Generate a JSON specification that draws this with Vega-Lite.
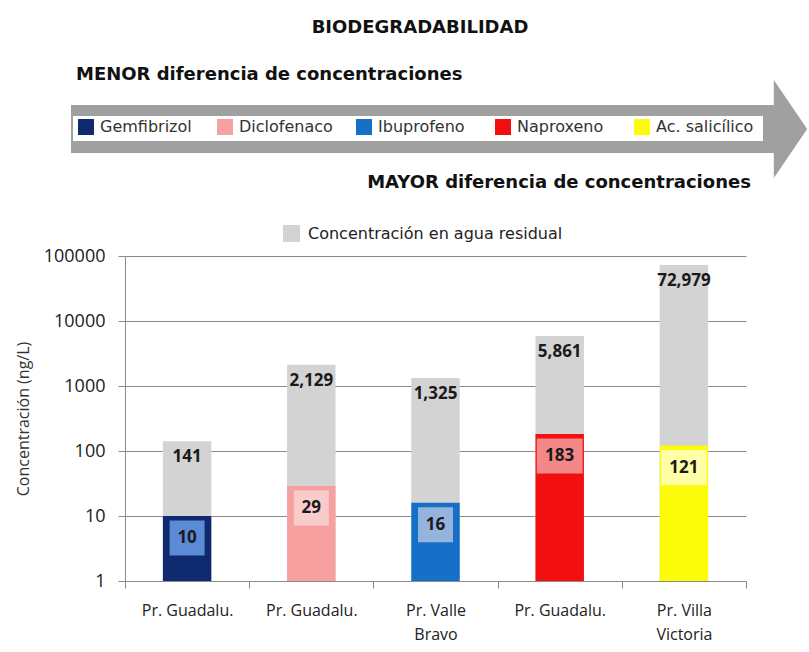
{
  "$schema": "https://vega.github.io/schema/vega-lite/v6.json",
  "padding": {"left": 15, "top": 5, "right": 0, "bottom": 4},
  "background": "white",
  "config": {"view": {"stroke": null}, "concat": {"spacing": 42}},
  "datasets": {
    "farmacos": [
      {"farmaco": "Gemfibrizol", "sitio": "Pr. Guadalu.", "residual": 141, "tratada": 10},
      {"farmaco": "Diclofenaco", "sitio": "Pr. Guadalu.", "residual": 2129, "tratada": 29},
      {"farmaco": "Ibuprofeno", "sitio": "Pr. Valle Bravo", "residual": 1325, "tratada": 16},
      {"farmaco": "Naproxeno", "sitio": "Pr. Guadalu.", "residual": 5861, "tratada": 183},
      {"farmaco": "Ac. salicílico", "sitio": "Pr. Villa Victoria", "residual": 72979, "tratada": 121}
    ]
  },
  "resolve": {"scale": {"x": "independent", "y": "independent"}},
  "vconcat": [
    {
      "width": 621,
      "height": 200,
      "data": {"values": [{}]},
      "layer": [
        {
          "mark": {"type": "rect", "color": "#a0a0a0"},
          "encoding": {
            "x": {"datum": 0, "type": "quantitative", "scale": {"domain": [0, 100], "range": [-54, 685]}, "axis": null},
            "x2": {"datum": 95.2},
            "y": {"datum": 50, "type": "quantitative", "scale": {"domain": [0, 100], "range": [0, 200]}, "axis": null},
            "y2": {"datum": 74}
          }
        },
        {
          "mark": {"type": "point", "shape": "M-0.34,-1L0.34,0L-0.34,1Z", "filled": true, "color": "#a0a0a0", "opacity": 1, "size": 9604, "strokeWidth": 0},
          "encoding": {
            "x": {"datum": 97.36, "type": "quantitative"},
            "y": {"datum": 62, "type": "quantitative"}
          }
        },
        {
          "mark": {"type": "rect", "color": "white"},
          "encoding": {
            "x": {"datum": 0.27, "type": "quantitative"},
            "x2": {"datum": 93.64},
            "y": {"datum": 55.5, "type": "quantitative"},
            "y2": {"datum": 68}
          }
        },
        {
          "mark": {"type": "text", "text": "BIODEGRADABILIDAD", "font": "DejaVu Sans", "fontWeight": "bold", "fontSize": 18, "color": "#111", "align": "center", "baseline": "middle"},
          "encoding": {
            "x": {"datum": 47.23, "type": "quantitative"},
            "y": {"datum": 11.5, "type": "quantitative"}
          }
        },
        {
          "mark": {"type": "text", "text": "MENOR diferencia de concentraciones", "font": "DejaVu Sans", "fontWeight": "bold", "fontSize": 18, "color": "#111", "align": "left", "baseline": "middle"},
          "encoding": {
            "x": {"datum": 0.68, "type": "quantitative"},
            "y": {"datum": 35, "type": "quantitative"}
          }
        },
        {
          "mark": {"type": "text", "text": "MAYOR diferencia de concentraciones", "font": "DejaVu Sans", "fontWeight": "bold", "fontSize": 18, "color": "#111", "align": "right", "baseline": "middle"},
          "encoding": {
            "x": {"datum": 92.0, "type": "quantitative"},
            "y": {"datum": 89, "type": "quantitative"}
          }
        }
      ]
    },
    {
      "width": 621,
      "height": 325,
      "data": {"name": "farmacos"},
      "encoding": {
        "x": {
          "field": "farmaco",
          "type": "nominal",
          "sort": null,
          "scale": {"paddingInner": 0, "paddingOuter": 0},
          "axis": {
            "title": null,
            "labelAngle": 0,
            "tickBand": "extent",
            "tickSize": 7,
            "tickColor": "#8a8a8a",
            "domainColor": "#8a8a8a",
            "labelFont": "Open Sans",
            "labelFontSize": 16,
            "labelColor": "#222",
            "labelPadding": 14,
            "labelLineHeight": 24,
            "labelExpr": "(datum.value == 'Gemfibrizol' || datum.value == 'Diclofenaco' || datum.value == 'Naproxeno') ? 'Pr. Guadalu.' : datum.value == 'Ibuprofeno' ? ['Pr. Valle', 'Bravo'] : datum.value == 'Ac. salicílico' ? ['Pr. Villa', 'Victoria'] : ''"
          }
        }
      },
      "layer": [
        {
          "mark": {"type": "bar", "width": {"band": 0.39}},
          "encoding": {
            "y": {
              "field": "residual",
              "type": "quantitative",
              "title": "Concentración (ng/L)",
              "scale": {"type": "log", "domain": [1, 100000], "nice": false},
              "axis": {
                "values": [1, 10, 100, 1000, 10000, 100000],
                "format": "d",
                "grid": true,
                "gridColor": "#8a8a8a",
                "domainColor": "#8a8a8a",
                "tickColor": "#8a8a8a",
                "tickSize": 7,
                "labelFont": "Open Sans",
                "labelFontSize": 18,
                "labelColor": "#1a1a1a",
                "labelPadding": 13,
                "titleFont": "Open Sans",
                "titleFontSize": 16,
                "titleFontWeight": "normal",
                "titleColor": "#333",
                "titlePadding": 12
              }
            },
            "y2": {"datum": 1},
            "fill": {
              "datum": "Concentración en agua residual",
              "scale": {"range": ["#d3d3d3"]},
              "legend": {
                "title": null,
                "orient": "none",
                "legendX": 158,
                "legendY": 220,
                "symbolType": "square",
                "symbolSize": 289,
                "symbolStrokeWidth": 0,
                "labelFont": "DejaVu Sans",
                "labelFontSize": 16,
                "labelColor": "#222",
                "labelOffset": 8,
                "labelLimit": 0,
                "padding": 0
              }
            }
          }
        },
        {
          "mark": {"type": "bar", "width": {"band": 0.39}},
          "encoding": {
            "y": {"field": "tratada", "type": "quantitative", "title": "Concentración (ng/L)"},
            "y2": {"datum": 1},
            "color": {
              "field": "farmaco",
              "type": "nominal",
              "sort": null,
              "scale": {
                "domain": ["Gemfibrizol", "Diclofenaco", "Ibuprofeno", "Naproxeno", "Ac. salicílico"],
                "range": ["#0f2a6e", "#f6a0a0", "#1770c8", "#f20f0f", "#fcfc0a"]
              },
              "legend": {
                "title": null,
                "orient": "none",
                "direction": "horizontal",
                "legendX": -47,
                "legendY": 114,
                "symbolType": "square",
                "symbolSize": 256,
                "symbolStrokeWidth": 0,
                "symbolOpacity": 1,
                "labelFont": "DejaVu Sans",
                "labelFontSize": 16,
                "labelColor": "#333",
                "labelOffset": 6,
                "labelLimit": 0,
                "gridAlign": "all",
                "columnPadding": 19,
                "padding": 0
              }
            }
          }
        },
        {
          "mark": {"type": "text", "dy": 16, "font": "Open Sans", "fontWeight": "bold", "fontSize": 17, "color": "#1a1a1a", "baseline": "middle"},
          "encoding": {
            "y": {"field": "residual", "type": "quantitative", "title": "Concentración (ng/L)"},
            "text": {"field": "residual", "type": "quantitative", "format": ",d"}
          }
        },
        {
          "mark": {"type": "point", "filled": true, "opacity": 1, "yOffset": 22, "size": 1225, "strokeWidth": 0},
          "encoding": {
            "y": {"field": "tratada", "type": "quantitative", "title": "Concentración (ng/L)"},
            "shape": {"condition": {"test": "datum.tratada >= 100", "value": "M-1.31,-1H1.31V1H-1.31Z"}, "value": "square"},
            "fill": {
              "condition": [
                {"test": "datum.farmaco == 'Gemfibrizol'", "value": "#5b8bd6"},
                {"test": "datum.farmaco == 'Diclofenaco'", "value": "#f9cccc"},
                {"test": "datum.farmaco == 'Ibuprofeno'", "value": "#95b3dc"},
                {"test": "datum.farmaco == 'Naproxeno'", "value": "#f48888"}
              ],
              "value": "#ffffa8"
            }
          }
        },
        {
          "mark": {"type": "text", "dy": 22, "font": "Open Sans", "fontWeight": "bold", "fontSize": 17, "color": "#1a1a1a", "baseline": "middle"},
          "encoding": {
            "y": {"field": "tratada", "type": "quantitative", "title": "Concentración (ng/L)"},
            "text": {"field": "tratada", "type": "quantitative", "format": "d"}
          }
        }
      ]
    }
  ]
}
